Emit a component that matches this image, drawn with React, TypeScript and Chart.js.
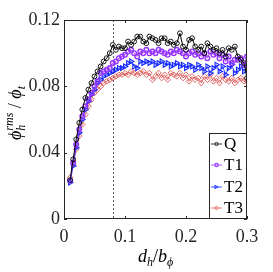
import React, { useEffect, useRef } from "react";
import { Chart, registerables } from "chart.js";
Chart.register(...registerables);

const xVals = [
  0.010, 0.015, 0.020, 0.025, 0.030, 0.035, 0.040, 0.045, 0.050, 0.055,
  0.060, 0.065, 0.070, 0.075, 0.080, 0.085, 0.090, 0.095, 0.100, 0.105,
  0.110, 0.115, 0.120, 0.125, 0.130, 0.135, 0.140, 0.145, 0.150, 0.155,
  0.160, 0.165, 0.170, 0.175, 0.180, 0.185, 0.190, 0.195, 0.200, 0.205,
  0.210, 0.215, 0.220, 0.225, 0.230, 0.235, 0.240, 0.245, 0.250, 0.255,
  0.260, 0.265, 0.270, 0.275, 0.280, 0.285, 0.290, 0.295, 0.300,
];

const qVals = [
  0.0235, 0.036, 0.048, 0.058, 0.066, 0.073, 0.078, 0.082, 0.086, 0.089,
  0.092, 0.095, 0.097, 0.100, 0.105, 0.102, 0.104, 0.103, 0.103, 0.107,
  0.105, 0.107, 0.110, 0.110, 0.107, 0.106, 0.110, 0.109, 0.108, 0.106,
  0.109, 0.109, 0.106, 0.107, 0.105, 0.106, 0.112, 0.104, 0.102, 0.108,
  0.109, 0.104, 0.102, 0.104, 0.100, 0.106, 0.104, 0.102, 0.103, 0.100,
  0.102, 0.098, 0.103, 0.102, 0.104, 0.098, 0.096, 0.094, 0.085,
];

const t1Vals = [
  0.023, 0.034, 0.045, 0.054, 0.062, 0.068, 0.072, 0.076, 0.080, 0.083,
  0.088, 0.089, 0.090, 0.091, 0.094, 0.095, 0.097, 0.098, 0.099, 0.101,
  0.102, 0.100, 0.098, 0.101, 0.100, 0.102, 0.100, 0.101, 0.100, 0.102,
  0.101, 0.100, 0.099, 0.101, 0.100, 0.102, 0.101, 0.100, 0.098, 0.100,
  0.101, 0.099, 0.100, 0.098, 0.100, 0.097, 0.101, 0.099, 0.100, 0.097,
  0.099, 0.095, 0.098, 0.094, 0.096, 0.096, 0.097, 0.093, 0.098,
];

const t2Vals = [
  0.022, 0.032, 0.043, 0.052, 0.060, 0.066, 0.071, 0.075, 0.078, 0.082,
  0.084, 0.086, 0.087, 0.088, 0.089, 0.090, 0.091, 0.091, 0.092, 0.094,
  0.095, 0.092, 0.091, 0.095, 0.094, 0.095, 0.094, 0.095, 0.093, 0.094,
  0.095, 0.093, 0.094, 0.092, 0.093, 0.094, 0.092, 0.093, 0.091, 0.093,
  0.092, 0.090, 0.093, 0.091, 0.089, 0.092, 0.088, 0.091, 0.093, 0.089,
  0.092, 0.087, 0.091, 0.093, 0.088, 0.090, 0.092, 0.089, 0.091,
];

const t3Vals = [
  0.025, 0.033, 0.042, 0.050, 0.057, 0.063, 0.068, 0.072, 0.076, 0.078,
  0.080, 0.082, 0.083, 0.084, 0.085, 0.086, 0.087, 0.087, 0.088, 0.087,
  0.089, 0.088, 0.087, 0.088, 0.089, 0.087, 0.088, 0.084, 0.086, 0.088,
  0.085, 0.087, 0.084, 0.088, 0.087, 0.086, 0.088, 0.085, 0.087, 0.083,
  0.086, 0.084, 0.085, 0.082, 0.086, 0.084, 0.087, 0.083, 0.085, 0.082,
  0.086, 0.084, 0.083, 0.085, 0.082, 0.084, 0.085, 0.083, 0.083,
];

const seriesNames = ["Q", "T1", "T2", "T3"];
const xTicks = [0, 0.1, 0.2, 0.3];
const xTickLabels = ["0", "0.1", "0.2", "0.3"];
const yTicks = [0, 0.04, 0.08, 0.12];
const yTickLabels = ["0", "0.04", "0.08", "0.12"];
const refLineX = 0.08;

const SERIF = '"Liberation Serif", "DejaVu Serif", serif';
const AXIS = "#262626";

const styles = [
  { color: "#000000", point: "circle", radius: 2.4, rot: 0, bw: 0.9, lw: 1 },
  { color: "rgb(150,50,255)", point: "circle", radius: 2.3, rot: 0, bw: 1.4, lw: 0.8 },
  { color: "rgb(20,40,255)", point: "triangle", radius: 2.8, rot: 90, bw: 1.1, lw: 0.8 },
  { color: "rgb(220,85,85)", point: "rectRot", radius: 2.8, rot: 0, bw: 0.9, lw: 0.8 },
];

type Seg = { t: string; size: number; italic: boolean; dy: number };

function drawRich(ctx: CanvasRenderingContext2D, groups: Seg[][], cx: number, by: number) {
  const font = (s: Seg) => `${s.italic ? "italic " : ""}${s.size}px ${SERIF}`;
  const widths = groups.map((g) =>
    Math.max(...g.map((s) => { ctx.font = font(s); return ctx.measureText(s.t).width; }))
  );
  const total = widths.reduce((a, b) => a + b, 0);
  let x = cx - total / 2;
  ctx.textBaseline = "alphabetic";
  ctx.textAlign = "left";
  groups.forEach((g, i) => {
    g.forEach((s) => {
      ctx.font = font(s);
      ctx.fillText(s.t, x, by + s.dy);
    });
    x += widths[i];
  });
}

const decorPlugin = {
  id: "decor",
  beforeDatasetsDraw(chart: any) {
    const { ctx, chartArea: a, scales } = chart;
    const px = scales.x.getPixelForValue(refLineX);
    ctx.save();
    ctx.strokeStyle = "#555";
    ctx.lineWidth = 1;
    ctx.setLineDash([2, 2]);
    ctx.beginPath();
    ctx.moveTo(Math.round(px) + 0.5, a.top);
    ctx.lineTo(Math.round(px) + 0.5, a.bottom);
    ctx.stroke();
    ctx.restore();
  },
  afterDraw(chart: any) {
    const { ctx, chartArea: a, scales } = chart;
    ctx.save();
    ctx.strokeStyle = AXIS;
    ctx.lineWidth = 1;
    ctx.strokeRect(Math.round(a.left) + 0.5, Math.round(a.top) + 0.5,
      Math.round(a.right - a.left) - 1, Math.round(a.bottom - a.top) - 1);
    ctx.beginPath();
    xTicks.forEach((v) => {
      const p = Math.round(scales.x.getPixelForValue(v)) + 0.5;
      ctx.moveTo(p, a.bottom); ctx.lineTo(p, a.bottom - 3);
      ctx.moveTo(p, a.top); ctx.lineTo(p, a.top + 3);
    });
    yTicks.forEach((v) => {
      const p = Math.round(scales.y.getPixelForValue(v)) + 0.5;
      ctx.moveTo(a.left, p); ctx.lineTo(a.left + 3, p);
      ctx.moveTo(a.right, p); ctx.lineTo(a.right - 3, p);
    });
    ctx.stroke();

    const lx = 209, ly = 133, lw = Math.round(a.right) - lx, lh = Math.round(a.bottom) - ly;
    ctx.fillStyle = "#fff";
    ctx.fillRect(lx, ly, lw, lh);
    ctx.strokeStyle = AXIS;
    ctx.strokeRect(lx + 0.5, ly + 0.5, lw - 1, lh - 1);
    const rows = [144, 165, 187, 208];
    seriesNames.forEach((name, i) => {
      const st = styles[i];
      const y = rows[i];
      ctx.strokeStyle = st.color;
      ctx.lineWidth = 0.8;
      ctx.beginPath();
      ctx.moveTo(211, y); ctx.lineTo(222, y);
      ctx.stroke();
      ctx.lineWidth = st.bw * 0.8;
      ctx.beginPath();
      const mx = 216.5, r = 1.7;
      if (st.point === "circle") {
        ctx.arc(mx, y, r, 0, Math.PI * 2);
      } else if (st.point === "triangle") {
        ctx.moveTo(mx + r, y); ctx.lineTo(mx - r, y - r); ctx.lineTo(mx - r, y + r); ctx.closePath();
      } else {
        ctx.moveTo(mx, y - r - 0.5); ctx.lineTo(mx + r, y); ctx.lineTo(mx, y + r + 0.5); ctx.lineTo(mx - r, y); ctx.closePath();
      }
      ctx.stroke();
      ctx.fillStyle = "#000";
      ctx.font = `17px ${SERIF}`;
      ctx.textAlign = "left";
      ctx.textBaseline = "middle";
      ctx.fillText(name, 224, y + 1);
    });

    ctx.fillStyle = "#000";
    drawRich(ctx, [
      [{ t: "d", size: 18, italic: true, dy: 0 }],
      [{ t: "h", size: 12, italic: true, dy: 4 }],
      [{ t: "/", size: 18, italic: false, dy: 0 }],
      [{ t: "b", size: 18, italic: true, dy: 0 }],
      [{ t: "ϕ", size: 12, italic: true, dy: 4 }],
    ], (a.left + a.right) / 2, 262);

    ctx.translate(21, 113);
    ctx.rotate(-Math.PI / 2);
    drawRich(ctx, [
      [{ t: "ϕ", size: 18, italic: true, dy: 0 }],
      [{ t: "rms", size: 12, italic: true, dy: -8 }, { t: "h", size: 12, italic: true, dy: 4 }],
      [{ t: " / ", size: 18, italic: false, dy: 0 }],
      [{ t: "ϕ", size: 18, italic: true, dy: 0 }],
      [{ t: "t", size: 12, italic: true, dy: 4 }],
    ], 0, 0);
    ctx.restore();
  },
};

export default function App() {
  const ref = useRef<HTMLCanvasElement | null>(null);
  useEffect(() => {
    document.body.style.margin = "0";
    const series = [qVals, t1Vals, t2Vals, t3Vals];
    const chart = new Chart(ref.current as HTMLCanvasElement, {
      type: "line",
      data: {
        datasets: series.map((vals, i) => ({
          label: seriesNames[i],
          data: xVals.map((x, k) => ({ x, y: vals[k] })),
          borderColor: styles[i].color,
          borderWidth: styles[i].lw,
          pointStyle: styles[i].point as any,
          pointRotation: styles[i].rot,
          pointRadius: styles[i].radius,
          pointBorderColor: styles[i].color,
          pointBackgroundColor: "rgba(0,0,0,0)",
          pointBorderWidth: styles[i].bw,
          tension: 0,
          fill: false,
        })),
      },
      options: {
        animation: false,
        responsive: false,
        devicePixelRatio: 1,
        layout: { padding: { top: 20, right: 26, left: 0, bottom: 0 } },
        plugins: { legend: { display: false }, tooltip: { enabled: false } },
        scales: {
          x: {
            type: "linear",
            min: 0,
            max: 0.3,
            grid: { display: false, drawTicks: false },
            border: { display: false },
            afterBuildTicks: (s: any) => { s.ticks = xTicks.map((v) => ({ value: v })); },
            afterFit: (s: any) => { s.height = 53; },
            ticks: {
              autoSkip: false,
              maxRotation: 0,
              padding: 7,
              color: AXIS,
              font: { family: SERIF, size: 18 },
              callback: (v: any) => xTickLabels[xTicks.findIndex((t) => Math.abs(t - v) < 1e-9)] ?? "",
            },
          },
          y: {
            type: "linear",
            min: 0,
            max: 0.12,
            grid: { display: false, drawTicks: false },
            border: { display: false },
            afterBuildTicks: (s: any) => { s.ticks = yTicks.map((v) => ({ value: v })); },
            afterFit: (s: any) => { s.width = 64; },
            ticks: {
              autoSkip: false,
              padding: 4,
              color: AXIS,
              font: { family: SERIF, size: 18 },
              callback: (v: any) => yTickLabels[yTicks.findIndex((t) => Math.abs(t - v) < 1e-9)] ?? "",
            },
          },
        },
      },
      plugins: [decorPlugin],
    });
    return () => chart.destroy();
  }, []);
  return (
    <div style={{ position: "fixed", left: 0, top: 0, width: 273, height: 272, background: "#fff" }}>
      <canvas ref={ref} width={273} height={272} />
    </div>
  );
}
